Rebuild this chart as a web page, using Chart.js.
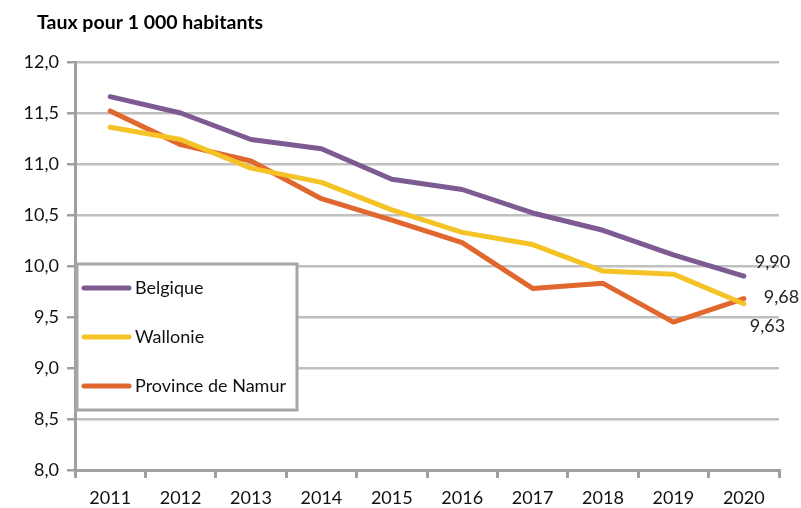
<!DOCTYPE html>
<html>
<head>
<meta charset="utf-8">
<script src="https://cdn.jsdelivr.net/npm/chart.js@4/dist/chart.umd.min.js"></script>
<style>
  html, body { margin: 0; padding: 0; background: #fff; }
  #wrap { width: 801px; height: 508px; }
</style>
</head>
<body>
<div id="wrap"><canvas id="tauxChart" width="801" height="508"></canvas></div>
<script>
const years = ['2011', '2012', '2013', '2014', '2015', '2016', '2017', '2018', '2019', '2020'];
const belgique = [11.66, 11.50, 11.24, 11.15, 10.85, 10.75, 10.52, 10.35, 10.11, 9.90];
const wallonie = [11.36, 11.24, 10.96, 10.82, 10.55, 10.33, 10.21, 9.95, 9.92, 9.63];
const namur = [11.52, 11.19, 11.03, 10.66, 10.45, 10.23, 9.78, 9.83, 9.45, 9.68];
const titleText = 'Taux pour 1 000 habitants';

const FONT = 'Lato, "Open Sans", sans-serif';

// fixed chart area: left 75, right 779, top 62, bottom 470
const AXIS_LEFT = 75;
const AXIS_BOTTOM = 470;

const frNum = (v, d) => v.toFixed(d).replace('.', ',');

const titlePlugin = {
  id: 'titleText',
  afterDraw(chart) {
    const ctx = chart.ctx;
    ctx.save();
    ctx.font = 'bold 19.5px ' + FONT;
    ctx.fillStyle = '#000';
    ctx.textBaseline = 'middle';
    ctx.fillText(titleText, 37, 23);
    ctx.restore();
  }
};

// last-point value labels (offsets per dataset: Belgique, Wallonie, Namur)
const endLabels = {
  id: 'endLabels',
  afterDatasetsDraw(chart) {
    const ctx = chart.ctx;
    const offsets = [[11, -14], [6, 22], [20, -1]];
    ctx.save();
    ctx.font = '18px ' + FONT;
    ctx.fillStyle = '#222';
    ctx.textBaseline = 'middle';
    chart.data.datasets.forEach((ds, i) => {
      const meta = chart.getDatasetMeta(i);
      const last = meta.data[meta.data.length - 1];
      const off = offsets[i];
      ctx.fillText(frNum(ds.data[ds.data.length - 1], 2), last.x + off[0], last.y + off[1]);
    });
    ctx.restore();
  }
};

// legend box drawn inside the plot
const boxLegend = {
  id: 'boxLegend',
  afterDatasetsDraw(chart) {
    const ctx = chart.ctx;
    ctx.save();
    ctx.fillStyle = '#fff';
    ctx.fillRect(77, 264, 220, 146);
    ctx.strokeStyle = '#a6a6a6';
    ctx.lineWidth = 3;
    ctx.strokeRect(77, 264, 220, 146);
    ctx.font = '18px ' + FONT;
    ctx.textBaseline = 'middle';
    chart.data.datasets.forEach((ds, i) => {
      const y = 288 + i * 49;
      ctx.strokeStyle = ds.borderColor;
      ctx.lineWidth = 5;
      ctx.lineCap = 'round';
      ctx.beginPath();
      ctx.moveTo(84, y);
      ctx.lineTo(129, y);
      ctx.stroke();
      ctx.fillStyle = '#111';
      ctx.fillText(ds.label, 135, y);
    });
    ctx.restore();
  }
};

const data = {
  labels: years,
  datasets: [
    { label: 'Belgique', data: belgique, borderColor: '#7d5b92' },
    { label: 'Wallonie', data: wallonie, borderColor: '#f5c325' },
    { label: 'Province de Namur', data: namur, borderColor: '#e0672e' }
  ].map(ds => Object.assign(ds, {
    borderWidth: 5,
    pointRadius: 0,
    tension: 0,
    fill: false,
    borderCapStyle: 'round',
    borderJoinStyle: 'round'
  }))
};

const config = {
  type: 'line',
  data: data,
  options: {
    responsive: false,
    animation: false,
    layout: { padding: { top: 62, right: 22, left: 0, bottom: 0 } },
    plugins: {
      legend: { display: false },
      tooltip: { enabled: false },
      title: { display: false }
    },
    scales: {
      x: {
        offset: true,
        grid: {
          offset: true,
          drawOnChartArea: false,
          drawTicks: true,
          tickLength: 8,
          color: '#a0a0a0',
          lineWidth: 3
        },
        border: { color: '#a0a0a0', width: 3 },
        ticks: {
          color: '#111',
          font: { family: FONT, size: 18 },
          padding: 9,
          maxRotation: 0
        },
        afterFit(scale) { scale.height = 508 - AXIS_BOTTOM; }
      },
      y: {
        min: 8,
        max: 12,
        grid: {
          color: '#c0c0c0',
          lineWidth: 2.5,
          tickLength: 8,
          tickColor: '#a0a0a0'
        },
        border: { color: '#a0a0a0', width: 3 },
        ticks: {
          stepSize: 0.5,
          color: '#111',
          font: { family: FONT, size: 18 },
          padding: 8,
          callback: v => frNum(v, 1)
        },
        afterFit(scale) { scale.width = AXIS_LEFT; }
      }
    }
  },
  plugins: [titlePlugin, boxLegend, endLabels]
};

const myChart = new Chart(document.getElementById('tauxChart'), config);
</script>
</body>
</html>
